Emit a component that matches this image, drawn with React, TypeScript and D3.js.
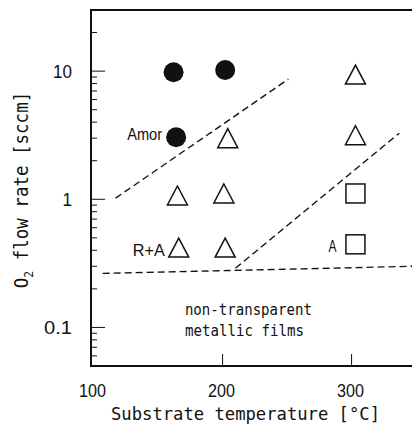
import React from "react";
import * as d3 from "d3";

// Deposition map: substrate temperature vs. O2 flow rate
// Filled circles: amorphous films
const amorT = [162, 202, 164];
const amorF = [9.8, 10.2, 3.05];
// Open triangles: rutile + anatase films
const triT = [165, 166, 204, 201, 202, 303, 303];
const triF = [1.07, 0.42, 3.0, 1.11, 0.42, 9.4, 3.16];
// Open squares: anatase films
const sqT = [303, 303];
const sqF = [1.11, 0.445];

// Dashed phase boundaries
const upperBoundT = [117, 251];
const upperBoundF = [1.02, 8.66];
const lowerBoundT = [210, 337];
const lowerBoundF = [0.29, 3.28];
const metalBoundT = [107, 347];
const metalBoundF = [0.264, 0.3];

// Axis ticks
const xTicks = [100, 200, 300];
const xTickLabels = ["100", "200", "300"];
const yMajorTicks = [0.1, 1, 10];
const yTickLabels = ["0.1", "1", "10"];

// Point annotations: [temperature, flow, label]
const pointLabelT = [164, 166, 303];
const pointLabelF = [3.05, 0.42, 0.445];
const pointLabels = ["Amor", "R+A", "A"];

const W = 412;
const H = 432;
const left = 91;
const top = 10;
const bottom = 366;

export default function App() {
  const x = d3.scaleLinear().domain([98, 348]).range([left, left + 250 * 1.29]);
  const y = d3.scaleLog().domain([0.05, 30]).range([bottom, top]);
  const right = x(348);

  const line = d3
    .line<[number, number]>()
    .x((d) => x(d[0]))
    .y((d) => y(d[1]));

  const minorTicks: number[] = [];
  for (let e = -2; e <= 1; e++) {
    for (let k = 2; k <= 9; k++) {
      const v = k * Math.pow(10, e);
      if (v > 0.05 && v < 30) minorTicks.push(v);
    }
  }

  const ink = "#111";
  const mono = "'DejaVu Sans Mono', monospace";
  const sans = "'Liberation Sans', Arial, sans-serif";

  const triPath = (cx: number, cy: number) =>
    `M${cx},${cy - 9.5}L${cx + 10},${cy + 9.5}L${cx - 10},${cy + 9.5}Z`;

  const bounds = [
    [upperBoundT, upperBoundF],
    [lowerBoundT, lowerBoundF],
    [metalBoundT, metalBoundF],
  ];

  return (
    <svg
      width={W}
      height={H}
      style={{ position: "absolute", left: 0, top: 0, background: "#fff" }}
    >
      {/* frame */}
      <rect
        x={left}
        y={top}
        width={right - left}
        height={bottom - top}
        fill="none"
        stroke={ink}
        strokeWidth={2}
      />

      {/* y ticks */}
      {minorTicks.map((v, i) => (
        <line key={"m" + i} x1={left} x2={left + 6} y1={y(v)} y2={y(v)} stroke={ink} strokeWidth={1} />
      ))}
      {yMajorTicks.map((v, i) => (
        <g key={"M" + i}>
          <line x1={left} x2={left + 14} y1={y(v)} y2={y(v)} stroke={ink} strokeWidth={1} />
          <text
            x={72}
            y={y(v) + 7}
            textAnchor="end"
            fontFamily={sans}
            fontSize={18}
            fill={ink}
            textLength={yTickLabels[i].length === 3 ? 28 : yTickLabels[i].length * 9.5}
            lengthAdjust="spacingAndGlyphs"
          >
            {yTickLabels[i]}
          </text>
        </g>
      ))}

      {/* x ticks */}
      {xTicks.map((t, i) => (
        <g key={"x" + i}>
          {x(t) - left > 4 && (
            <line x1={x(t)} x2={x(t)} y1={bottom} y2={bottom - 12} stroke={ink} strokeWidth={1} />
          )}
          <text
            x={x(t) - 14.5}
            y={397}
            fontFamily={sans}
            fontSize={18}
            fill={ink}
            textLength={27}
            lengthAdjust="spacingAndGlyphs"
          >
            {xTickLabels[i]}
          </text>
        </g>
      ))}

      {/* axis titles */}
      <text
        x={111}
        y={420}
        fontFamily={mono}
        fontSize={18}
        fill={ink}
        textLength={269}
        lengthAdjust="spacingAndGlyphs"
      >
        Substrate temperature [°C]
      </text>
      <g transform="translate(28,190) rotate(-90) scale(0.875,1)">
        <text x={0} y={0} textAnchor="middle" fontFamily={mono} fontSize={20} fill={ink}>
          O
          <tspan fontSize={13} dy={5}>2</tspan>
          <tspan dy={-5}> flow rate [sccm]</tspan>
        </text>
      </g>

      {/* boundaries */}
      {bounds.map(([ts, fs], i) => (
        <path
          key={"b" + i}
          d={line(ts.map((t, j) => [t, fs[j]] as [number, number])) || ""}
          fill="none"
          stroke={ink}
          strokeWidth={1.4}
          strokeDasharray="7,4"
        />
      ))}

      {/* markers */}
      {amorT.map((t, i) => (
        <circle key={"c" + i} cx={x(t)} cy={y(amorF[i])} r={10} fill={ink} />
      ))}
      {triT.map((t, i) => (
        <path
          key={"t" + i}
          d={triPath(x(t), y(triF[i]))}
          fill="none"
          stroke={ink}
          strokeWidth={1.5}
          strokeLinejoin="miter"
        />
      ))}
      {sqT.map((t, i) => (
        <rect
          key={"s" + i}
          x={x(t) - 9.5}
          y={y(sqF[i]) - 9.5}
          width={19}
          height={19}
          fill="none"
          stroke={ink}
          strokeWidth={1.5}
        />
      ))}

      {/* point labels */}
      {pointLabels.map((lab, i) => (
        <text
          key={"l" + i}
          x={x(pointLabelT[i]) - (lab === "A" ? 19 : 14)}
          y={y(pointLabelF[i]) + (lab === "Amor" ? 3 : 8)}
          textAnchor="end"
          fontFamily={sans}
          fontSize={16.5}
          fill={ink}
          textLength={lab === "Amor" ? 35 : lab === "R+A" ? 32 : 8}
          lengthAdjust="spacingAndGlyphs"
        >
          {lab}
        </text>
      ))}

      {/* region annotation */}
      <text
        x={x(170.8)}
        y={y(0.126)}
        fontFamily={mono}
        fontSize={15}
        fill={ink}
        textLength={127}
        lengthAdjust="spacingAndGlyphs"
      >
        non-transparent
      </text>
      <text
        x={x(170.8)}
        y={y(0.126) + 21.7}
        fontFamily={mono}
        fontSize={15}
        fill={ink}
        textLength={119}
        lengthAdjust="spacingAndGlyphs"
      >
        metallic films
      </text>
    </svg>
  );
}
